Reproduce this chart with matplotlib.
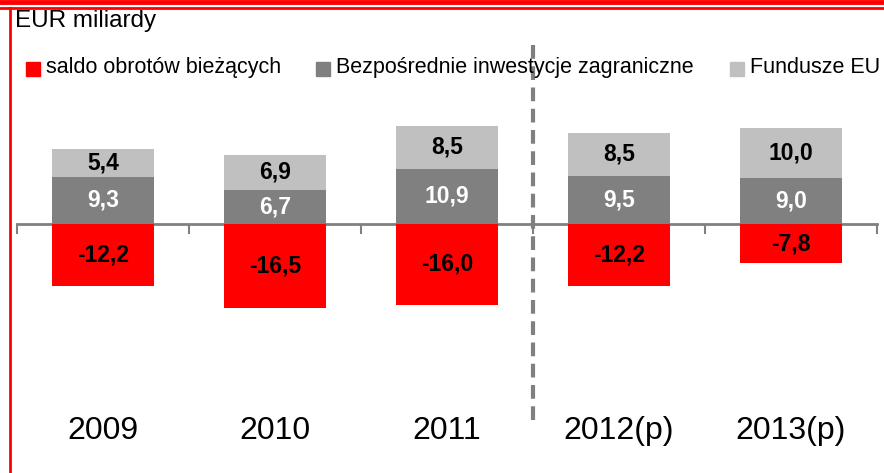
import numpy as np
import matplotlib.pyplot as plt
from matplotlib.patches import Rectangle
from matplotlib.lines import Line2D

plt.rcParams['font.family'] = ['Liberation Sans', 'DejaVu Sans']

years = ['2009', '2010', '2011', '2012(p)', '2013(p)']
saldo = [-12.2, -16.5, -16.0, -12.2, -7.8]
bezposrednie = [9.3, 6.7, 10.9, 9.5, 9.0]
fundusze = [5.4, 6.9, 8.5, 8.5, 10.0]
series_names = ['saldo obrotów bieżących', 'Bezpośrednie inwestycje zagraniczne', 'Fundusze EU']
colors = ['#ff0000', '#808080', '#c0c0c0']
unit_label = 'EUR miliardy'

W, H = 884, 473
fig = plt.figure(figsize=(W / 100, H / 100), dpi=100)
ax = fig.add_axes([17 / W, 1 - 420 / H, 860 / W, 380 / H])

x = np.arange(len(years))
width = 0.59
ax.bar(x, saldo, width, color=colors[0], zorder=3)
ax.bar(x, bezposrednie, width, color=colors[1], zorder=3)
ax.bar(x, fundusze, width, bottom=bezposrednie, color=colors[2], zorder=3)


def fmt(v):
    return f'{v:.1f}'.replace('.', ',')


for i in range(len(years)):
    ax.text(x[i], saldo[i] / 2, fmt(saldo[i]), ha='center', va='center',
            fontsize=16.5, fontweight='bold', color='black', zorder=4)
    ax.text(x[i], bezposrednie[i] / 2, fmt(bezposrednie[i]), ha='center',
            va='center', fontsize=16.5, fontweight='bold', color='white', zorder=4)
    ax.text(x[i], bezposrednie[i] + fundusze[i] / 2, fmt(fundusze[i]),
            ha='center', va='center', fontsize=16.5, fontweight='bold', color='black', zorder=4)
    ax.text(x[i], -11 / 380, years[i], transform=ax.get_xaxis_transform(), ha='center',
            va='center', fontsize=23, color='black')

ax.set_xlim(-0.5, len(years) - 0.5)
ax.set_ylim(-38.7, 36.3)

# zero axis with boundary ticks
for s in ['top', 'right', 'left']:
    ax.spines[s].set_visible(False)
ax.spines['bottom'].set_position(('data', 0))
ax.spines['bottom'].set_color('#808080')
ax.spines['bottom'].set_linewidth(2)
ax.spines['bottom'].set_zorder(2)
ax.set_xticks(np.arange(len(years) + 1) - 0.5)
ax.tick_params(axis='x', direction='out', length=7, width=1.5, color='#808080', labelbottom=False)
ax.set_yticks([])

# forecast separator
ax.axvline(2.5, ymin=0, ymax=1, color='#808080', lw=3, ls=(0, (3.3, 1.8)), zorder=5)

# header and legend
fig.text(15 / W, 1 - 21 / H, unit_label, fontsize=17.5, va='center', ha='left')
legend_x = [26, 316, 730]
for lx, name, c in zip(legend_x, series_names, colors):
    fig.patches.append(Rectangle((lx / W, 1 - 76 / H), 14 / W, 14 / H, transform=fig.transFigure,
                                 color=c))
    fig.text((lx + 20) / W, 1 - 67 / H, name, fontsize=15.5, va='center', ha='left')

# red frame
fig.add_artist(Line2D([0, 1], [1 - 2 / H, 1 - 2 / H], color='#ff0000', lw=3.5,
                      transform=fig.transFigure))
fig.add_artist(Line2D([0, 1], [1 - 8.5 / H, 1 - 8.5 / H], color='#ff0000', lw=2,
                      transform=fig.transFigure))
fig.add_artist(Line2D([9.5 / W, 9.5 / W], [0, 1 - 8 / H], color='#ff0000', lw=2,
                      transform=fig.transFigure))

fig.savefig('out.png', dpi=100)
